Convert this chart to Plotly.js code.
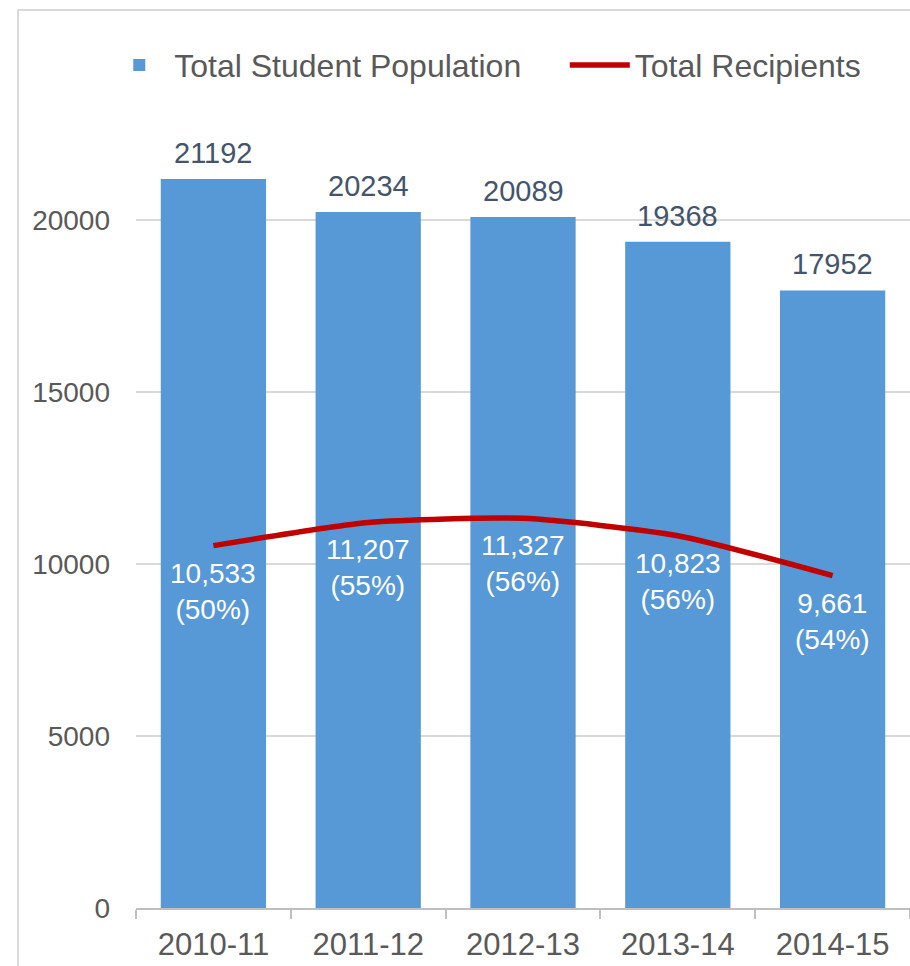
<!DOCTYPE html>
<html>
<head>
<meta charset="utf-8">
<script src="https://cdn.plot.ly/plotly-3.0.1.min.js"></script>
<style>
  html, body { margin: 0; padding: 0; background: #fff; }
  #wrap { position: relative; width: 910px; height: 966px; overflow: hidden; }
  #chart { position: absolute; left: 0; top: 0; width: 910px; height: 966px; }
  #frame { position: absolute; left: 17px; top: 9px; width: 900px; height: 970px;
           border: 2px solid #d9d9d9; pointer-events: none; box-sizing: border-box; }
</style>
</head>
<body>
<div id="wrap">
  <div id="chart"></div>
  <div id="frame"></div>
</div>
<script>
const years = ["2010-11", "2011-12", "2012-13", "2013-14", "2014-15"];
const studentPopulation = [21192, 20234, 20089, 19368, 17952];
const recipients = [10533, 11207, 11327, 10823, 9661];
const recipientPct = [50, 55, 56, 56, 54];

const FONT = "Liberation Sans, Arial, sans-serif";
const fmt = v => v.toLocaleString("en-US");

const barTrace = {
  type: "bar",
  name: "Total Student Population",
  x: years,
  y: studentPopulation,
  marker: { color: "#5798d6", line: { width: 0 } },
  legend: "legend",
  hoverinfo: "skip"
};

const lineTrace = {
  type: "scatter",
  mode: "lines",
  name: "Total Recipients",
  x: years,
  y: recipients,
  line: { color: "#c00000", width: 5.5, shape: "spline", smoothing: 0.6 },
  legend: "legend2",
  hoverinfo: "skip"
};

const annotations = [];
years.forEach((yr, i) => {
  annotations.push({
    x: yr, y: studentPopulation[i], xref: "x", yref: "y",
    text: String(studentPopulation[i]),
    showarrow: false, yanchor: "bottom", yshift: 8,
    font: { family: FONT, size: 29, color: "#44546a" }
  });
  annotations.push({
    x: yr, y: recipients[i], xref: "x", yref: "y",
    text: fmt(recipients[i]) + "<br>(" + recipientPct[i] + "%)",
    showarrow: false, yanchor: "top", yshift: -10,
    font: { family: FONT, size: 28, color: "#ffffff" }
  });
});

const legendBase = {
  orientation: "h",
  xanchor: "left",
  y: 0.98, yanchor: "middle",
  font: { family: FONT, size: 32, color: "#595959" },
  itemwidth: 60,
  bgcolor: "rgba(0,0,0,0)"
};

const layout = {
  width: 910, height: 966,
  margin: { l: 136, r: 0, t: 48, b: 58 },
  paper_bgcolor: "#ffffff",
  plot_bgcolor: "#ffffff",
  font: { family: FONT, color: "#595959" },
  bargap: 0.32,
  showlegend: true,
  legend: Object.assign({}, legendBase, { x: -0.041 }),
  legend2: Object.assign({}, legendBase, { x: 0.554 }),
  xaxis: {
    type: "category",
    showgrid: false,
    showline: true, linecolor: "#bfbfbf", linewidth: 2,
    ticks: "outside", tickson: "boundaries", ticklen: 9, tickcolor: "#bfbfbf", tickwidth: 2,
    tickfont: { family: FONT, size: 31, color: "#595959" },
    ticklabelstandoff: 8,
    fixedrange: true
  },
  yaxis: {
    range: [0, 25000],
    tickvals: [0, 5000, 10000, 15000, 20000],
    ticktext: ["0", "5000", "10000", "15000", "20000"],
    showgrid: true, gridcolor: "#d9d9d9", gridwidth: 1.5,
    showline: false, zeroline: false,
    tickfont: { family: FONT, size: 28, color: "#595959" },
    ticklabelstandoff: 25,
    fixedrange: true
  },
  annotations: annotations
};

Plotly.newPlot("chart", [barTrace, lineTrace], layout, { displayModeBar: false, staticPlot: true });
</script>
</body>
</html>
